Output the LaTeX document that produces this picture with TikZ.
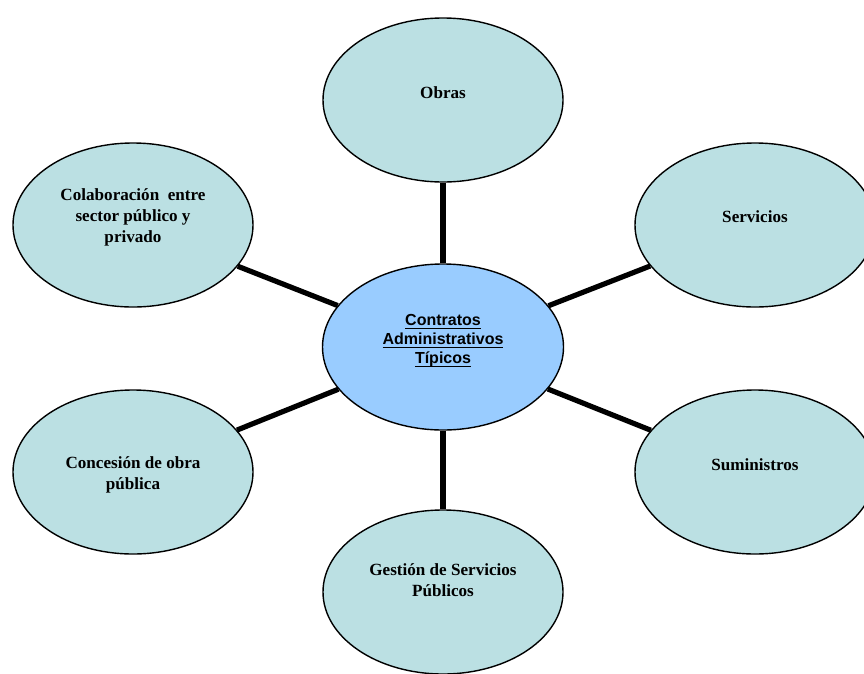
\documentclass[tikz,border=0pt]{standalone}
\usepackage{fontspec}
\setmainfont{Liberation Serif}
\setsansfont{Liberation Sans}
\usepackage{xcolor}
\definecolor{paleTeal}{RGB}{187, 224, 227}
\definecolor{skyBlue}{RGB}{153, 204, 255}
\usetikzlibrary{shapes.geometric, positioning}
\newcommand{\ulword}[1]{\setbox0=\hbox{#1}\rlap{\rule[-3pt]{\wd0}{1.2pt}}\box0}

\begin{document}
\begin{tikzpicture}[x=1pt, y=-1pt,
  bubble/.style={ellipse, draw=black, line width=1.4pt, fill=paleTeal,
                 minimum width=240pt, minimum height=164pt, inner sep=0pt},
  hubble/.style={bubble, fill=skyBlue, minimum width=241pt, minimum height=166pt},
  txt/.style={align=center, font=\fontsize{17.1}{21}\selectfont\bfseries, inner sep=0pt},
  hubtxt/.style={align=center, font=\sffamily\fontsize{16}{19}\selectfont\bfseries, inner sep=0pt},
  link/.style={line width=5.2pt, draw=black}]

  \useasboundingbox (0,0) rectangle (864,673);
  \clip (0,0) rectangle (864,673);

  % ── Bubbles ───────────────────────────────────────────────────────
  \node[hubble] (hub)   at (443, 347) {};
  \node[bubble] (obras) at (443, 100) {};
  \node[bubble] (serv)  at (755, 225) {};
  \node[bubble] (sumi)  at (755, 472) {};
  \node[bubble] (gest)  at (443, 592) {};
  \node[bubble] (conc)  at (133, 472) {};
  \node[bubble] (colab) at (133, 225) {};

  % ── Texts ─────────────────────────────────────────────────────────
  \node[hubtxt] (hubT) at ([yshift=6pt]hub.center)
        {\ulword{Contratos}\\ \ulword{Administrativos}\\ \ulword{Típicos}};
  \node[txt] (obrasT) at ([yshift=7pt]obras.center) {Obras};
  \node[txt] (servT)  at ([yshift=8pt]serv.center)  {Servicios};
  \node[txt] (sumiT)  at ([yshift=7pt]sumi.center)  {Suministros};
  \node[txt] (gestT)  at ([yshift=12pt]gest.center) {Gestión de Servicios\\ Públicos};
  \node[txt] (concT)  at ([yshift=-3pt]conc.center) {Concesión de obra\\ pública};
  \node[txt] (colabT) at ([yshift=8pt]colab.center) {Colaboración\ \ entre\\ sector público y\\ privado};

  % ── Links ─────────────────────────────────────────────────────────
  \foreach \b in {obras, serv, sumi, gest, conc, colab}
    \draw[link] (hub) -- (\b);

\end{tikzpicture}
\end{document}
